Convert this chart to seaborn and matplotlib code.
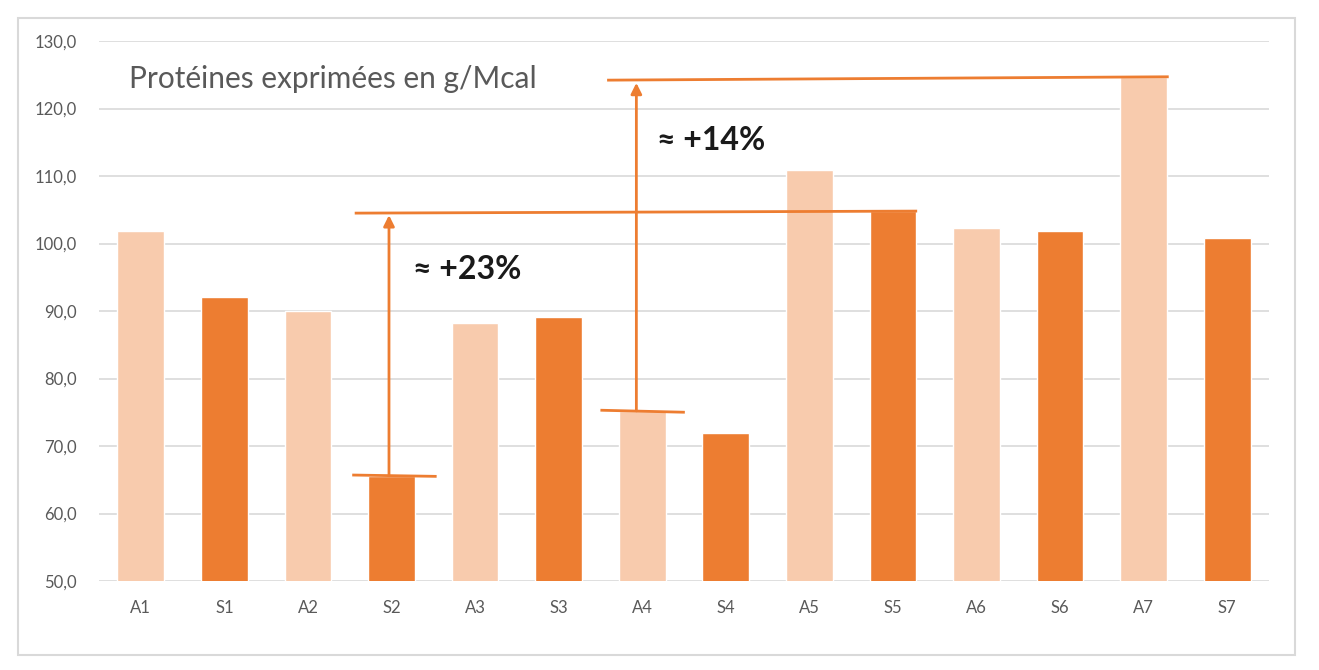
import pandas as pd
import seaborn as sns
import matplotlib.pyplot as plt
from matplotlib.patches import Rectangle

# valeurs
labels = ['A1', 'S1', 'A2', 'S2', 'A3', 'S3', 'A4', 'S4', 'A5', 'S5', 'A6', 'S6', 'A7', 'S7']
groups = ['A', 'S'] * 7
proteines = [101.9, 92.1, 90.0, 65.6, 88.2, 89.1, 75.2, 71.9, 110.9, 104.8, 102.3, 101.9, 124.7, 100.8]
yticks = [50, 60, 70, 80, 90, 100, 110, 120, 130]

light = '#F8CBAD'
orange = '#ED7D31'
grey_txt = '#595959'
grid = '#D9D9D9'

df = pd.DataFrame({'label': labels, 'groupe': groups, 'val': proteines})

sns.set_theme(style='white')
plt.rcParams['font.family'] = ['Lato', 'DejaVu Sans']

fig = plt.figure(figsize=(13.19, 6.70), dpi=100)
ax = fig.add_axes([99 / 1319, 1 - 581 / 670, 1170 / 1319, 540 / 670])

sns.barplot(data=df, x='label', y='val', hue='groupe', palette={'A': light, 'S': orange},
            dodge=False, width=0.56, legend=False, ax=ax, saturation=1)

ax.set_ylim(50, 130)
ax.set_xlim(-0.5, len(labels) - 0.5)
ax.set_yticks(yticks)
ax.set_yticklabels([f'{v:.1f}'.replace('.', ',') for v in yticks])
ax.set_xlabel('')
ax.set_ylabel('')
ax.tick_params(axis='both', length=0, colors=grey_txt, labelsize=12)
ax.tick_params(axis='y', pad=16)
ax.tick_params(axis='x', pad=14)
ax.yaxis.grid(True, color=grid, linewidth=1.2)
ax.set_axisbelow(True)
for s in ax.spines.values():
    s.set_visible(False)

ax.text(0.026, 0.93, 'Protéines exprimées en g/Mcal', transform=ax.transAxes,
        fontsize=21.5, color=grey_txt, va='center', ha='left')

# annotations
lw = 2.0
ax.plot([2.53, 3.54], [65.7, 65.5], color=orange, lw=lw, solid_capstyle='butt')
ax.plot([2.56, 9.29], [104.5, 104.8], color=orange, lw=lw, solid_capstyle='butt')
ax.annotate('', xy=(2.97, 104.2), xytext=(2.97, 65.6),
            arrowprops=dict(arrowstyle='-|>', color=orange, lw=lw, mutation_scale=16, shrinkA=0, shrinkB=0))
ax.text(3.26, 96.1, '≈ +23%', fontsize=23, fontweight='bold', color='#1a1a1a', va='center', ha='left')

ax.plot([5.5, 6.51], [75.3, 75.0], color=orange, lw=lw, solid_capstyle='butt')
ax.plot([5.58, 12.3], [124.2, 124.7], color=orange, lw=lw, solid_capstyle='butt')
ax.annotate('', xy=(5.93, 123.8), xytext=(5.93, 75.2),
            arrowprops=dict(arrowstyle='-|>', color=orange, lw=lw, mutation_scale=16, shrinkA=0, shrinkB=0))
ax.text(6.18, 115.3, '≈ +14%', fontsize=23, fontweight='bold', color='#1a1a1a', va='center', ha='left')

fig.patches.append(Rectangle((18 / 1319, 1 - 655 / 670), 1277 / 1319, 637 / 670,
                             transform=fig.transFigure, fill=False, edgecolor=grid, lw=1.5))

fig.savefig('out.png', dpi=100)
